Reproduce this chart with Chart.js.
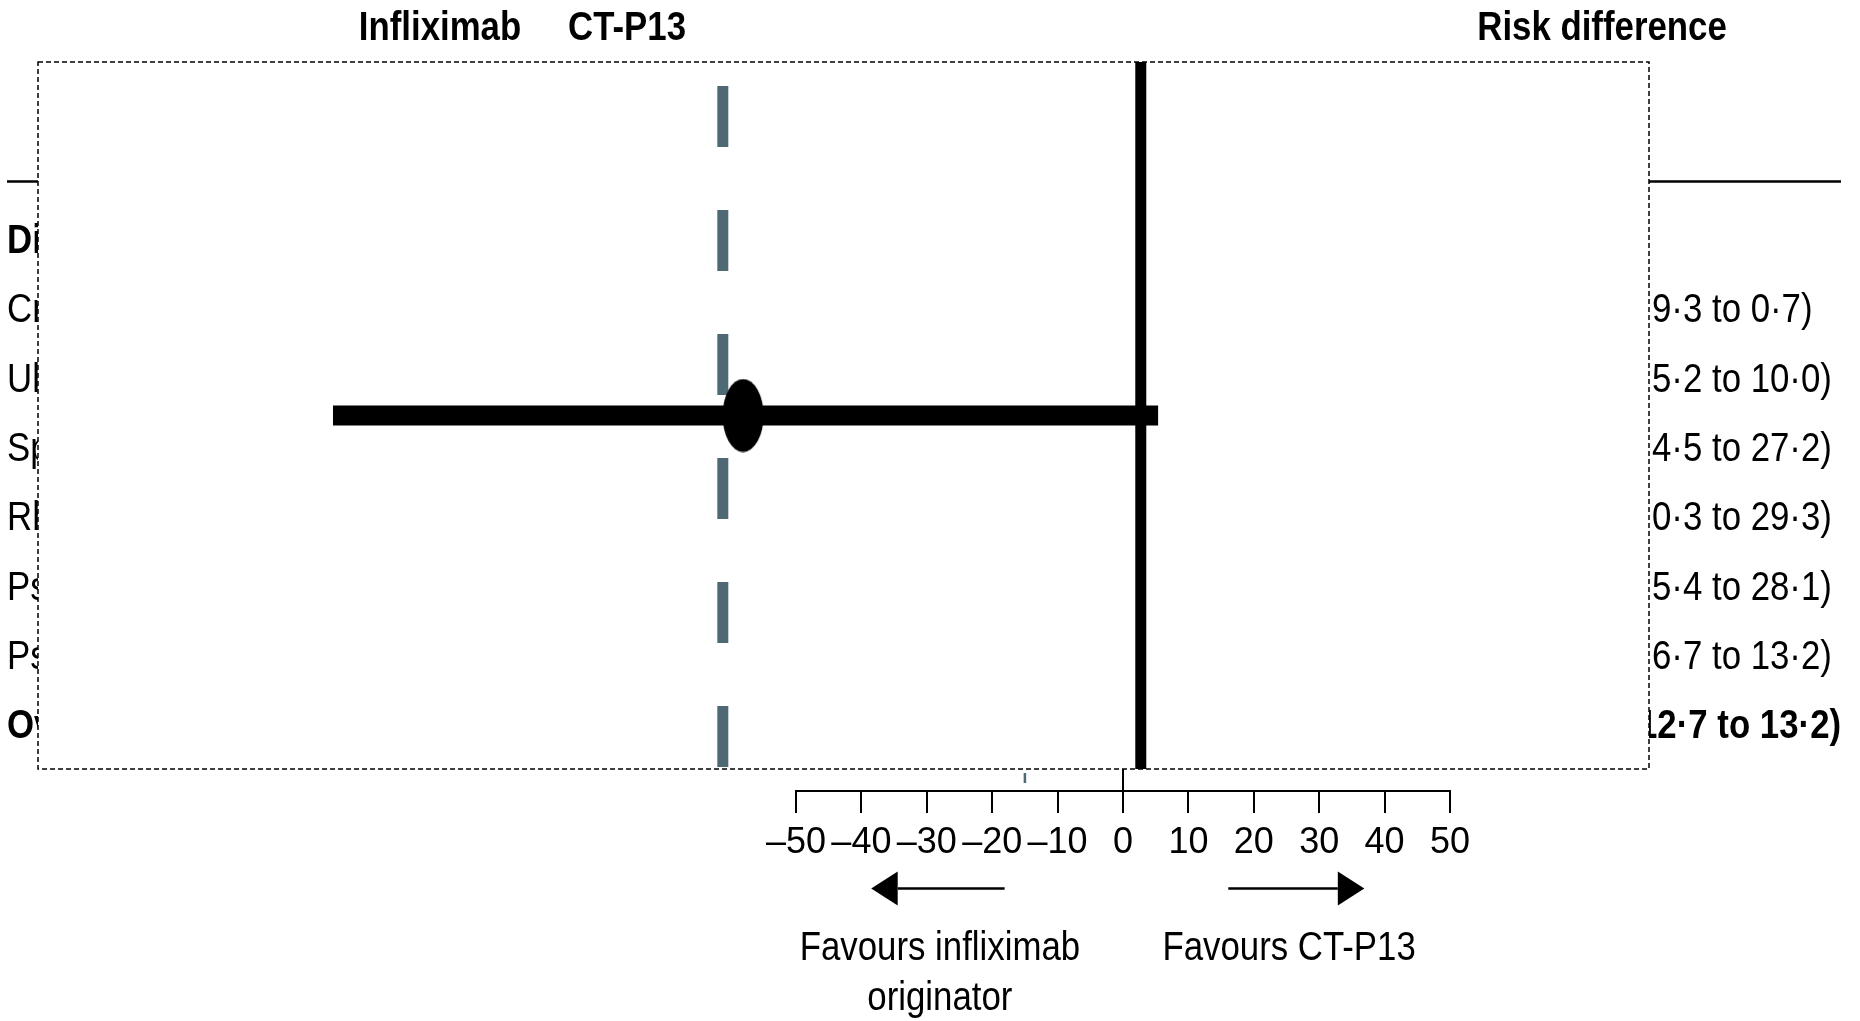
<!DOCTYPE html>
<html>
<head>
<meta charset="utf-8">
<script src="https://cdn.jsdelivr.net/npm/chart.js@4.4.1/dist/chart.umd.min.js"></script>
<style>
  html, body { margin: 0; padding: 0; background: #ffffff; }
  #wrap { position: relative; width: 1860px; height: 1021px; overflow: hidden; }
  canvas { position: absolute; left: 0; top: 0; }
</style>
</head>
<body>
<div id="wrap">
  <canvas id="main" width="1860" height="1021"></canvas>
  <canvas id="axis" width="1860" height="1021"></canvas>
</div>
<script>
// ---------------- data ----------------
const headerLabels = ['Infliximab', 'CT-P13', 'Risk difference'];
const rowLabels = ['Di', 'Cr', 'Ul', 'Sp', 'Rh', 'Ps', 'Ps', 'Ov'];
const rowBold = [true, false, false, false, false, false, false, true];
const ciLabels = ['9·3 to 0·7)', '5·2 to 10·0)', '4·5 to 27·2)', '0·3 to 29·3)', '5·4 to 28·1)', '6·7 to 13·2)', '12·7 to 13·2)'];
const ciBold = [false, false, false, false, false, false, true];

// overlay box, x in risk-difference units, y as fraction of box height
const boxXRange = [-165.9, 80.4];
const estimateX = [-58.1];
const estimateY = [0.5];
const ciLow = [-120.8];
const ciHigh = [5.35];
const dashedLineX = [-61.2];
const dashedLineY = [0.966, 0];
const solidLineX = [2.7];
const solidLineY = [1, 0];

// bottom axis
const axisTickValues = [-50, -40, -30, -20, -10, 0, 10, 20, 30, 40, 50];
const greyMarkX = [-15];
const greyMarkY = [8, 18];
const arrowLeft = [-18.1, -38.5];   // tail, tip
const arrowRight = [16.1, 36.9];    // tail, tip
const favoursLeftText = ['Favours infliximab', 'originator'];
const favoursRightText = ['Favours CT-P13'];
const favoursLeftX = -28.0;
const favoursRightX = 25.4;

const FONT = "'Liberation Sans', Arial, sans-serif";
const DASH_COLOR = '#4f6974';
const SX = 0.87; // horizontal compression to mimic a condensed face

function drawText(ctx, s, x, y, bold, align) {
  ctx.save();
  ctx.font = (bold ? 'bold ' : '') + '40px ' + FONT;
  ctx.textAlign = align || 'left';
  ctx.textBaseline = 'alphabetic';
  ctx.fillStyle = '#000';
  ctx.translate(x, y);
  ctx.scale(SX, 1);
  ctx.fillText(s, 0, 0);
  ctx.restore();
}

// ellipse marker
const ell = document.createElement('canvas');
ell.width = 42; ell.height = 74;
(function () {
  const c = ell.getContext('2d');
  c.fillStyle = '#000';
  c.beginPath();
  c.ellipse(21, 37, 20.5, 36.5, 0, 0, Math.PI * 2);
  c.fill();
})();

// ---------------- main chart (dotted box) ----------------
const tablePlugin = {
  id: 'tableText',
  beforeDraw(chart) {
    const ctx = chart.ctx;
    const hx = [440, 627, 1602];
    headerLabels.forEach((t, i) => drawText(ctx, t, hx[i], 40, true, 'center'));
    ctx.save();
    ctx.strokeStyle = '#000';
    ctx.lineWidth = 2.5;
    ctx.beginPath();
    ctx.moveTo(7, 181.5);
    ctx.lineTo(1841, 181.5);
    ctx.stroke();
    ctx.restore();
    rowLabels.forEach((t, i) => drawText(ctx, t, 7, 253 + 69.3 * i, rowBold[i], 'left'));
    ciLabels.forEach((t, i) => drawText(ctx, t, ciBold[i] ? 1638 : 1652, 253 + 69.3 * (i + 1), ciBold[i], 'left'));
  },
  beforeDatasetsDraw(chart) {
    const a = chart.chartArea;
    const ctx = chart.ctx;
    ctx.save();
    ctx.fillStyle = '#fff';
    ctx.fillRect(a.left, a.top, a.right - a.left, a.bottom - a.top);
    ctx.strokeStyle = '#000';
    ctx.lineWidth = 1.5;
    ctx.setLineDash([5, 3]);
    ctx.strokeRect(a.left, a.top, a.right - a.left, a.bottom - a.top);
    ctx.restore();
  }
};

new Chart(document.getElementById('main'), {
  type: 'line',
  data: {
    datasets: [
      {
        label: 'Estimate',
        data: estimateX.map((x, i) => ({ x: x, y: estimateY[i] })),
        showLine: false,
        pointStyle: ell,
        pointRadius: 20,
        pointBackgroundColor: '#000',
        pointBorderWidth: 0
      },
      {
        label: 'Null',
        data: solidLineY.map(y => ({ x: solidLineX[0], y: y })),
        borderColor: '#000',
        borderWidth: 11,
        borderCapStyle: 'butt',
        pointRadius: 0
      },
      {
        label: 'CI',
        data: [{ x: ciLow[0], y: estimateY[0] }, { x: ciHigh[0], y: estimateY[0] }],
        borderColor: '#000',
        borderWidth: 20,
        borderCapStyle: 'butt',
        pointRadius: 0
      },
      {
        label: 'Overall',
        data: dashedLineY.map(y => ({ x: dashedLineX[0], y: y })),
        borderColor: DASH_COLOR,
        borderWidth: 11,
        borderDash: [61, 63],
        borderCapStyle: 'butt',
        pointRadius: 0
      }
    ]
  },
  options: {
    responsive: false,
    animation: false,
    events: [],
    layout: { autoPadding: false, padding: { left: 38, top: 62, right: 211, bottom: 252 } },
    scales: {
      x: { type: 'linear', min: boxXRange[0], max: boxXRange[1], display: false },
      y: { type: 'linear', min: 0, max: 1, display: false }
    },
    plugins: { legend: { display: false }, tooltip: { enabled: false } }
  },
  plugins: [tablePlugin]
});

// ---------------- bottom axis chart ----------------
const axisExtras = {
  id: 'axisExtras',
  afterDraw(chart) {
    const xs = chart.scales.x;
    const ctx = chart.ctx;
    ctx.save();
    ctx.fillStyle = '#000';
    ctx.strokeStyle = '#000';
    ctx.lineWidth = 2.5;
    const ay = 888.5;
    function arrow(tailV, tipV) {
      const tail = xs.getPixelForValue(tailV);
      const tip = xs.getPixelForValue(tipV);
      const dir = tip > tail ? 1 : -1;
      const base = tip - dir * 26.5;
      ctx.beginPath();
      ctx.moveTo(tail, ay);
      ctx.lineTo(base, ay);
      ctx.stroke();
      ctx.beginPath();
      ctx.moveTo(tip, ay);
      ctx.lineTo(base, ay - 17);
      ctx.lineTo(base, ay + 17);
      ctx.closePath();
      ctx.fill();
    }
    arrow(arrowLeft[0], arrowLeft[1]);
    arrow(arrowRight[0], arrowRight[1]);
    ctx.restore();
    favoursLeftText.forEach((t, i) => drawText(ctx, t, xs.getPixelForValue(favoursLeftX), 960 + 50 * i, false, 'center'));
    favoursRightText.forEach((t, i) => drawText(ctx, t, xs.getPixelForValue(favoursRightX), 960 + 50 * i, false, 'center'));
  }
};

new Chart(document.getElementById('axis'), {
  type: 'line',
  data: {
    datasets: [
      {
        label: 'mark',
        data: greyMarkY.map(y => ({ x: greyMarkX[0], y: y })),
        borderColor: DASH_COLOR,
        borderWidth: 2.5,
        pointRadius: 0
      }
    ]
  },
  options: {
    responsive: false,
    animation: false,
    events: [],
    layout: { autoPadding: false, padding: { left: 796, right: 410, top: 769, bottom: 0 } },
    scales: {
      x: {
        type: 'linear',
        position: 'bottom',
        min: -50,
        max: 50,
        afterBuildTicks(scale) { scale.ticks = axisTickValues.map(v => ({ value: v })); },
        afterFit(scale) { scale.height = 230; },
        ticks: {
          autoSkip: false,
          maxRotation: 0,
          padding: 8,
          color: '#000',
          font: { family: FONT, size: 36 },
          callback: v => (v < 0 ? '\u2013' + Math.abs(v) : String(v))
        },
        grid: {
          drawOnChartArea: true,
          color: c => (c.tick && c.tick.value === 0 ? '#000' : 'rgba(0,0,0,0)'),
          lineWidth: 2,
          tickColor: '#000',
          tickWidth: 2,
          tickLength: 22
        },
        border: { display: true, color: '#000', width: 2 }
      },
      y: { type: 'linear', min: 0, max: 22, display: false }
    },
    plugins: { legend: { display: false }, tooltip: { enabled: false } }
  },
  plugins: [axisExtras]
});
</script>
</body>
</html>
